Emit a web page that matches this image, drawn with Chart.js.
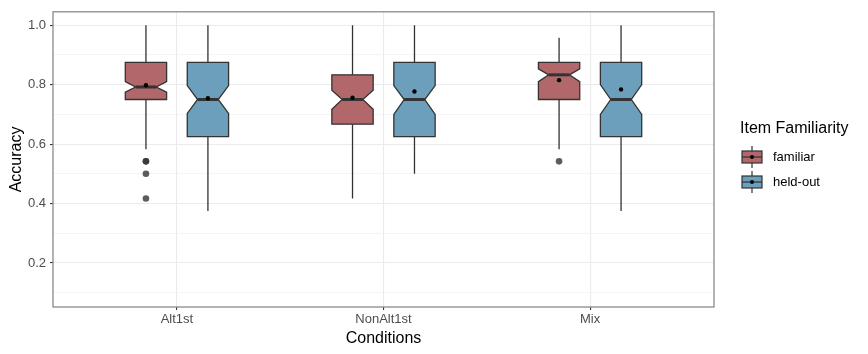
<!DOCTYPE html>
<html>
<head>
<meta charset="utf-8">
<script src="https://cdn.jsdelivr.net/npm/chart.js@4.4.0/dist/chart.umd.min.js"></script>
<style>
  html, body { margin: 0; padding: 0; background: #fff; }
  #wrap { width: 868px; height: 354px; }
</style>
</head>
<body>
<div id="wrap"><canvas id="chart"></canvas></div>
<script>
// Dados
const categories = ['Alt1st', 'NonAlt1st', 'Mix'];
const groups = ['familiar', 'held-out'];
const yTicks = [0.1, 0.2, 0.3, 0.4, 0.5, 0.6, 0.7, 0.8, 0.9, 1.0];

// ordem: [min, q1, notchLow, median, notchHigh, q3, max]
const familiarBox = [
    [0.583, 0.750, 0.775, 0.792, 0.810, 0.875, 1.000],
    [0.417, 0.667, 0.717, 0.750, 0.781, 0.833, 1.000],
    [0.583, 0.750, 0.810, 0.833, 0.853, 0.875, 0.958]
];
const heldOutBox = [
    [0.375, 0.625, 0.703, 0.750, 0.797, 0.875, 1.000],
    [0.500, 0.625, 0.700, 0.750, 0.797, 0.875, 1.000],
    [0.375, 0.625, 0.700, 0.750, 0.800, 0.875, 1.000]
];
const familiarMeans = [0.798, 0.756, 0.815];
const heldOutMeans = [0.754, 0.777, 0.784];
const familiarOutliers = [[0.542, 0.542, 0.500, 0.417], [], [0.542]];
const heldOutOutliers = [[], [], []];

const fillColors = ['#B2676A', '#6C9FBB'];
const dodge = [-0.15, 0.15];
const boxHalf = 0.1;
const lineColor = '#333333';
const fontFamily = '"Liberation Sans", Arial, sans-serif';

function pointsFrom(values, offset) {
    return values.map(function(v, i) { return { x: i + 1 + offset, y: v }; });
}
function outlierPoints(list, offset) {
    const pts = [];
    list.forEach(function(vals, i) {
        vals.forEach(function(v) { pts.push({ x: i + 1 + offset, y: v }); });
    });
    return pts;
}

// Plugin: desenha as caixas com entalhe usando as escalas do Chart.js
const boxPlugin = {
    id: 'boxes',
    beforeDatasetsDraw(chart) {
        const ctx = chart.ctx;
        const xs = chart.scales.x, ys = chart.scales.y;
        [familiarBox, heldOutBox].forEach(function(stats, g) {
            stats.forEach(function(s, i) {
                const c = i + 1 + dodge[g];
                const L = xs.getPixelForValue(c - boxHalf);
                const R = xs.getPixelForValue(c + boxHalf);
                const iL = xs.getPixelForValue(c - boxHalf / 2);
                const iR = xs.getPixelForValue(c + boxHalf / 2);
                const X = xs.getPixelForValue(c);
                const yMin = ys.getPixelForValue(s[0]);
                const yQ1 = ys.getPixelForValue(s[1]);
                const yNL = ys.getPixelForValue(s[2]);
                const yMed = ys.getPixelForValue(s[3]);
                const yNH = ys.getPixelForValue(s[4]);
                const yQ3 = ys.getPixelForValue(s[5]);
                const yMax = ys.getPixelForValue(s[6]);
                ctx.save();
                ctx.strokeStyle = lineColor;
                ctx.lineWidth = 1.3;
                ctx.beginPath();
                ctx.moveTo(X, yQ3); ctx.lineTo(X, yMax);
                ctx.moveTo(X, yQ1); ctx.lineTo(X, yMin);
                ctx.stroke();
                ctx.beginPath();
                ctx.moveTo(L, yQ3);
                ctx.lineTo(R, yQ3);
                ctx.lineTo(R, yNH);
                ctx.lineTo(iR, yMed);
                ctx.lineTo(R, yNL);
                ctx.lineTo(R, yQ1);
                ctx.lineTo(L, yQ1);
                ctx.lineTo(L, yNL);
                ctx.lineTo(iL, yMed);
                ctx.lineTo(L, yNH);
                ctx.closePath();
                ctx.fillStyle = fillColors[g];
                ctx.fill();
                ctx.stroke();
                ctx.lineWidth = 3;
                ctx.beginPath();
                ctx.moveTo(iL, yMed); ctx.lineTo(iR, yMed);
                ctx.stroke();
                ctx.restore();
            });
        });
    },
    afterDraw(chart) {
        const ctx = chart.ctx;
        const a = chart.chartArea;
        ctx.save();
        // borda do painel
        ctx.strokeStyle = '#8a8a8a';
        ctx.lineWidth = 1.3;
        ctx.strokeRect(a.left, a.top, a.right - a.left, a.bottom - a.top);

        // legenda
        ctx.fillStyle = '#000';
        ctx.font = '16px ' + fontFamily;
        ctx.textBaseline = 'middle';
        ctx.textAlign = 'left';
        ctx.fillText('Item Familiarity', 740, 129);
        groups.forEach(function(name, g) {
            const cy = 157 + g * 25;
            const kx = 742, kw = 20, kh = 12;
            ctx.strokeStyle = lineColor;
            ctx.lineWidth = 1.2;
            ctx.beginPath();
            ctx.moveTo(kx + kw / 2, cy - 11); ctx.lineTo(kx + kw / 2, cy + 11);
            ctx.stroke();
            ctx.fillStyle = fillColors[g];
            ctx.fillRect(kx, cy - kh / 2, kw, kh);
            ctx.strokeRect(kx, cy - kh / 2, kw, kh);
            ctx.beginPath();
            ctx.moveTo(kx, cy); ctx.lineTo(kx + kw, cy);
            ctx.stroke();
            ctx.fillStyle = '#000';
            ctx.beginPath();
            ctx.arc(kx + kw / 2, cy, 2, 0, Math.PI * 2);
            ctx.fill();
            ctx.font = '13px ' + fontFamily;
            ctx.fillText(name, 773, cy);
        });
        ctx.restore();
    }
};

function isMajor(v) {
    return Math.round(v * 10) % 2 === 0;
}

window.addEventListener('load', function() {
    const canvas = document.getElementById('chart');
    new Chart(canvas, {
        type: 'scatter',
        data: {
            datasets: [
                {
                    label: 'familiar outliers',
                    data: outlierPoints(familiarOutliers, dodge[0]),
                    pointRadius: 3.3,
                    pointBackgroundColor: 'rgba(51,51,51,0.8)',
                    pointBorderWidth: 0
                },
                {
                    label: 'held-out outliers',
                    data: outlierPoints(heldOutOutliers, dodge[1]),
                    pointRadius: 3.3,
                    pointBackgroundColor: 'rgba(51,51,51,0.8)',
                    pointBorderWidth: 0
                },
                {
                    label: 'familiar mean',
                    data: pointsFrom(familiarMeans, dodge[0]),
                    pointRadius: 2.2,
                    pointBackgroundColor: '#000',
                    pointBorderWidth: 0
                },
                {
                    label: 'held-out mean',
                    data: pointsFrom(heldOutMeans, dodge[1]),
                    pointRadius: 2.2,
                    pointBackgroundColor: '#000',
                    pointBorderWidth: 0
                }
            ]
        },
        options: {
            responsive: true,
            maintainAspectRatio: false,
            animation: false,
            layout: { padding: { left: 0, right: 154, top: 9, bottom: 0 } },
            plugins: {
                legend: { display: false },
                tooltip: { enabled: false }
            },
            scales: {
                x: {
                    type: 'linear',
                    min: 0.4,
                    max: 3.6,
                    afterBuildTicks: function(scale) {
                        scale.ticks = categories.map(function(c, i) { return { value: i + 1 }; });
                    },
                    afterFit: function(scale) { scale.height = 47; },
                    border: { display: false },
                    grid: {
                        color: '#EBEBEB',
                        lineWidth: 1.1,
                        tickColor: lineColor,
                        tickLength: 3
                    },
                    ticks: {
                        autoSkip: false,
                        maxRotation: 0,
                        padding: 2,
                        color: '#4D4D4D',
                        font: { size: 13, family: fontFamily },
                        callback: function(v) { return categories[Math.round(v) - 1]; }
                    },
                    title: {
                        display: true,
                        text: 'Conditions',
                        color: '#000',
                        font: { size: 16, family: fontFamily },
                        padding: { top: 0, bottom: 6 }
                    }
                },
                y: {
                    min: 0.052,
                    max: 1.045,
                    afterBuildTicks: function(scale) {
                        scale.ticks = yTicks.map(function(v) { return { value: v }; });
                    },
                    afterFit: function(scale) { scale.width = 53; },
                    border: { display: false },
                    grid: {
                        color: function(ctx) { return isMajor(ctx.tick.value) ? '#EBEBEB' : '#F3F3F3'; },
                        lineWidth: function(ctx) { return isMajor(ctx.tick.value) ? 1.1 : 0.8; },
                        tickColor: function(ctx) { return isMajor(ctx.tick.value) ? lineColor : 'rgba(0,0,0,0)'; },
                        tickLength: 3
                    },
                    ticks: {
                        autoSkip: false,
                        padding: 4,
                        color: '#4D4D4D',
                        font: { size: 13, family: fontFamily },
                        callback: function(v) { return isMajor(v) ? v.toFixed(1) : ''; }
                    },
                    title: {
                        display: true,
                        text: 'Accuracy',
                        color: '#000',
                        font: { size: 16, family: fontFamily },
                        padding: { top: 7, bottom: 0 }
                    }
                }
            }
        },
        plugins: [boxPlugin]
    });
});
</script>
</body>
</html>
